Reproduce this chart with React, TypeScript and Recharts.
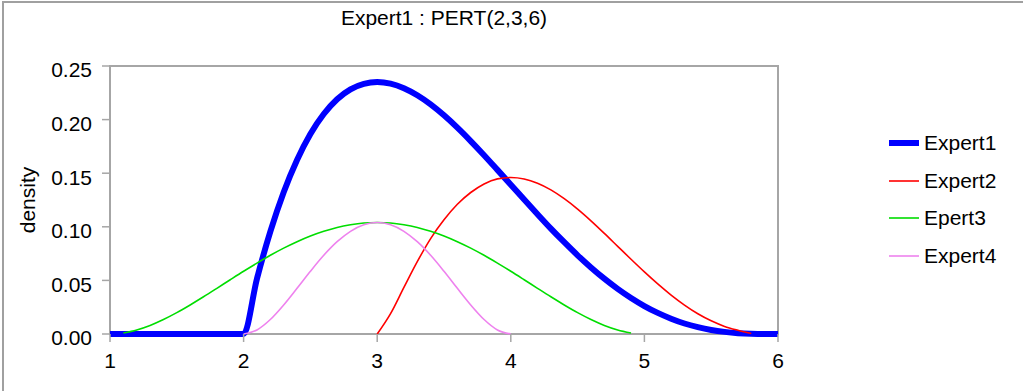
import React from "react";
import { LineChart, Line, XAxis, YAxis, Legend, ReferenceArea } from "recharts";

// x positions (step 0.1) and densities
const xs = [
  1.0, 1.1, 1.2, 1.3, 1.4, 1.5, 1.6, 1.7, 1.8, 1.9,
  2.0, 2.1, 2.2, 2.3, 2.4, 2.5, 2.6, 2.7, 2.8, 2.9,
  3.0, 3.1, 3.2, 3.3, 3.4, 3.5, 3.6, 3.7, 3.8, 3.9,
  4.0, 4.1, 4.2, 4.3, 4.4, 4.5, 4.6, 4.7, 4.8, 4.9,
  5.0, 5.1, 5.2, 5.3, 5.4, 5.5, 5.6, 5.7, 5.8, 5.9,
  6.0,
];

const expert1 = [
  0, 0, 0, 0, 0, 0, 0, 0, 0, 0,
  0, 0.0516, 0.0955, 0.1323, 0.1624, 0.1866, 0.2052, 0.219, 0.2282, 0.2334,
  0.235, 0.2335, 0.2293, 0.2227, 0.2142, 0.204, 0.1925, 0.18, 0.1668, 0.1531,
  0.1393, 0.1254, 0.1117, 0.0983, 0.0856, 0.0734, 0.0621, 0.0516, 0.0421, 0.0336,
  0.0261, 0.0197, 0.0143, 0.0098, 0.0064, 0.0038, 0.002, 0.0008, 0.0002, 0,
  0,
];

const expert2 = [
  null, null, null, null, null, null, null, null, null, null,
  null, null, null, null, null, null, null, null, null, null,
  0, 0.019, 0.0435, 0.0675, 0.089, 0.1065, 0.121, 0.132, 0.14, 0.1447,
  0.146, 0.1446, 0.1406, 0.1344, 0.1262, 0.1165, 0.1056, 0.0939, 0.0818, 0.0697,
  0.0579, 0.0467, 0.0363, 0.027, 0.0189, 0.0123, 0.0071, 0.0035, 0.0005, null,
  null,
];

const expert3 = [
  null, 0.001, 0.0038, 0.008, 0.0135, 0.0199, 0.0271, 0.0347, 0.0426, 0.0506,
  0.0585, 0.0661, 0.0734, 0.0801, 0.0861, 0.0914, 0.0958, 0.0994, 0.1019, 0.1035,
  0.104, 0.1035, 0.1019, 0.0994, 0.0958, 0.0914, 0.0861, 0.0801, 0.0734, 0.0661,
  0.0585, 0.0506, 0.0426, 0.0347, 0.0271, 0.0199, 0.0135, 0.008, 0.0038, 0.001,
  null, null, null, null, null, null, null, null, null, null,
  null,
];

const expert4 = [
  null, null, null, null, null, null, null, null, null, null,
  0, 0.0038, 0.0135, 0.0271, 0.0426, 0.0585, 0.0734, 0.0861, 0.0958, 0.1019,
  0.104, 0.1019, 0.0958, 0.0861, 0.0734, 0.0585, 0.0426, 0.0271, 0.0135, 0.0038,
  0, null, null, null, null, null, null, null, null, null,
  null, null, null, null, null, null, null, null, null, null,
  null,
];

const xTicks = [1, 2, 3, 4, 5, 6];
const yTicks = [0, 0.05, 0.1, 0.15, 0.2, 0.25];

const series = [
  { key: "e1", name: "Expert1", color: "#0000ff", width: 6 },
  { key: "e2", name: "Expert2", color: "#ff0000", width: 1.6 },
  { key: "e3", name: "Epert3", color: "#00dd00", width: 1.6 },
  { key: "e4", name: "Expert4", color: "#ee82ee", width: 1.6 },
];

const data = xs.map((x, i) => ({
  x,
  e1: expert1[i],
  e2: expert2[i],
  e3: expert3[i],
  e4: expert4[i],
}));

const font = '"Liberation Sans", Arial, sans-serif';
const frame = "#a6a6a6";

function LegendBox() {
  return (
    <div style={{ fontFamily: font, fontSize: 21, color: "#000" }}>
      {series.map((s) => (
        <div key={s.key} style={{ display: "flex", alignItems: "center", height: 37.8 }}>
          <svg width={30} height={10} style={{ display: "block" }}>
            <line x1={0} y1={5} x2={30} y2={5} stroke={s.color} strokeWidth={s.width} />
          </svg>
          <span style={{ marginLeft: 5 }}>{s.name}</span>
        </div>
      ))}
    </div>
  );
}

export default function App() {
  return (
    <div style={{ position: "absolute", left: 0, top: 0, width: 1023, height: 391, background: "#fff", fontFamily: font }}>
      <div
        style={{
          position: "absolute",
          left: 2,
          top: 1,
          width: 1021,
          height: 390,
          borderTop: "2px solid #a0a0a0",
          borderLeft: "2px solid #a0a0a0",
          boxSizing: "border-box",
        }}
      />
      <div
        style={{
          position: "absolute",
          left: 110,
          width: 668,
          top: 6,
          lineHeight: "24px",
          textAlign: "center",
          fontSize: 21,
          color: "#000",
        }}
      >
        Expert1 : PERT(2,3,6)
      </div>
      <LineChart
        width={1023}
        height={391}
        data={data}
        margin={{ top: 66, right: 115, bottom: 17, left: 20 }}
        style={{ position: "absolute", left: 0, top: 0 }}
      >
        <ReferenceArea x1={1} x2={6} y1={0} y2={0.25} fill="none" stroke={frame} strokeWidth={2} />
        <XAxis
          dataKey="x"
          type="number"
          domain={[1, 6]}
          ticks={xTicks}
          height={40}
          axisLine={false}
          tickLine={{ stroke: frame, strokeWidth: 1.5 }}
          tickSize={8}
          tickMargin={11}
          tick={{ fontSize: 21, fill: "#000", fontFamily: font }}
        />
        <YAxis
          type="number"
          domain={[0, 0.25]}
          ticks={yTicks}
          width={90}
          axisLine={false}
          tickLine={{ stroke: frame, strokeWidth: 1.5 }}
          tickSize={8}
          tickMargin={10}
          tickFormatter={(v: number) => v.toFixed(2)}
          tick={{ fontSize: 21, fill: "#000", fontFamily: font, dy: 4 }}
          label={{
            value: "density",
            angle: -90,
            position: "insideLeft",
            offset: 8,
            style: { textAnchor: "middle", fontSize: 21, fill: "#000", fontFamily: font },
          }}
        />
        {series.map((s) => (
          <Line
            key={s.key}
            type="monotone"
            dataKey={s.key}
            name={s.name}
            stroke={s.color}
            strokeWidth={s.width}
            dot={false}
            activeDot={false}
            isAnimationActive={false}
          />
        ))}
        <Legend
          layout="vertical"
          align="right"
          verticalAlign="top"
          wrapperStyle={{ position: "absolute", left: 889, top: 124, width: 130 }}
          content={() => <LegendBox />}
        />
      </LineChart>
    </div>
  );
}
